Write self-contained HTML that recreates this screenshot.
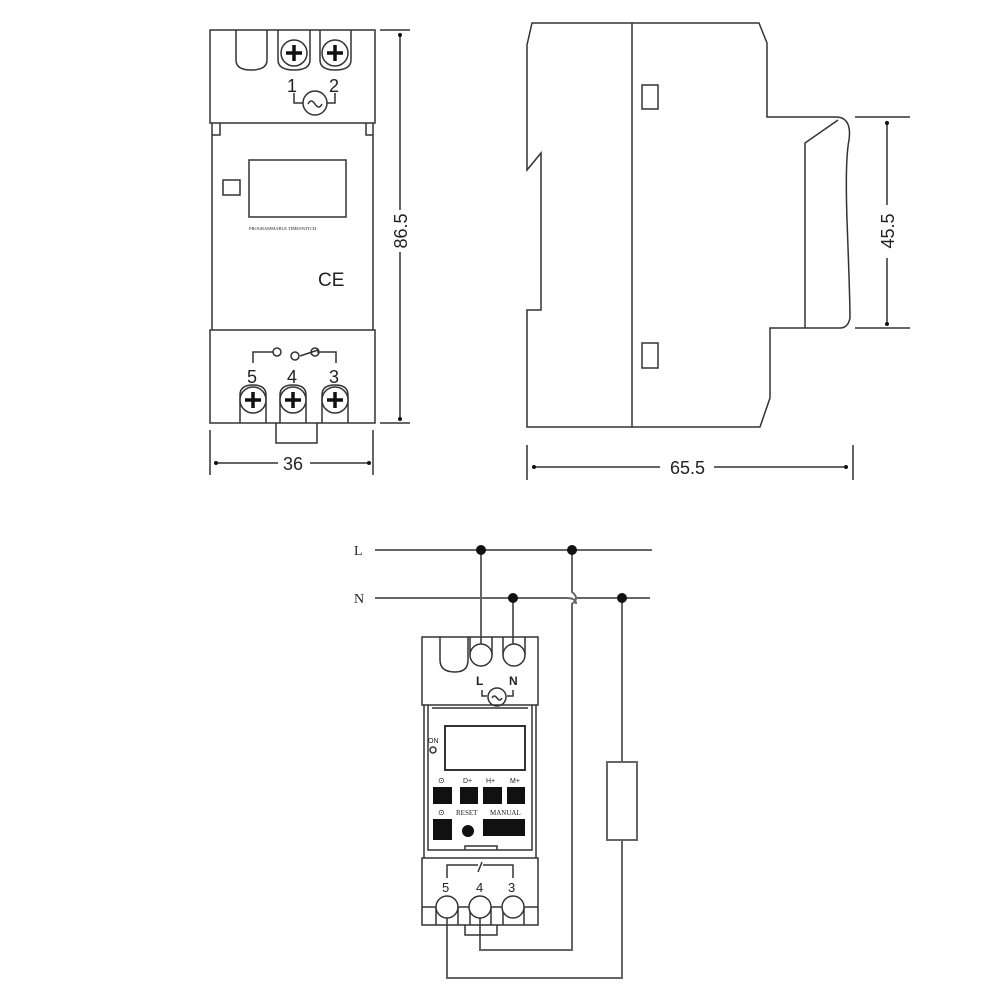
<!DOCTYPE html>
<html><head><meta charset="utf-8"><style>html,body{margin:0;padding:0;background:#fff}svg{display:block}</style></head><body>
<svg width="1000" height="1000" viewBox="0 0 1000 1000" xmlns="http://www.w3.org/2000/svg" font-family="Liberation Sans, sans-serif">
<g fill="none" stroke="#333" stroke-width="1.5">
<!-- FRONT VIEW -->
<rect x="210" y="30" width="165" height="93"/>
<path d="M212 123 V330 M373 123 V330 M212 123 L212 135 L220 135 L220 123 M373 123 L373 135 L366 135 L366 123"/>
<rect x="210" y="330" width="165" height="93"/>
<path d="M276 423 V443 H317 V423"/>
<path d="M236 30 V60 Q236 70 251 70 Q267 70 267 60 V30"/>
<path d="M278 30 V60 Q278 70 294 70 Q310 70 310 60 V30 M320 30 V60 Q320 70 335 70 Q351 70 351 60 V30"/>
<circle cx="294" cy="53" r="13"/><circle cx="335" cy="53" r="13"/>
<path d="M294 93 V103 H303 M335 93 V103 H327"/>
<circle cx="315" cy="103" r="12"/>
<path d="M308 104 q3 -6 7 0 q4 6 7 0"/>
<rect x="249" y="160" width="97" height="57"/>
<rect x="223" y="180" width="17" height="15"/>
<path d="M240 423 V395 Q240 385 253 385 Q266 385 266 395 V423 M280 423 V395 Q280 385 293 385 Q306 385 306 395 V423 M322 423 V395 Q322 385 335 385 Q348 385 348 395 V423"/>
<circle cx="253" cy="400" r="13" fill="#fff"/><circle cx="293" cy="400" r="13" fill="#fff"/><circle cx="335" cy="400" r="13" fill="#fff"/>
<path d="M253 363 V352 H273 M318 350 L300 356 M317 352 H336 V363"/>
<circle cx="277" cy="352" r="4"/><circle cx="295" cy="356" r="4"/><circle cx="315" cy="352" r="4"/>
<!-- dims -->
<path d="M380 30 H410 M380 423 H410 M400 34 V210 M400 252 V420 M210 430 V475 M373 430 V475 M215 463 H278 M310 463 H370"/>
<!-- SIDE VIEW -->
<path d="M532 23 H759 L767 43 V117 H837 Q852 118 849 140 Q845 160 847 220 Q850 300 850 318 Q848 328 840 328 H770 V398 L760 427 H527 V310 H541 V153 L527 170 V45 Z"/>
<path d="M632 23 V427"/>
<rect x="642" y="85" width="16" height="24"/><rect x="642" y="343" width="16" height="25"/>
<path d="M805 328 V143 L838 120"/>
<path d="M855 117 H910 M855 328 H910 M887 122 V205 M887 258 V325 M527 445 V480 M853 445 V480 M533 467 H660 M714 467 H847"/>
<!-- WIRING -->
<g stroke="#666" stroke-width="2">
<path d="M375 550 H652 M375 598 H567 Q576 598 576 604 M577 598 H650"/>
<path d="M481 550 V644 M513 598 V644"/>
<path d="M572 550 V592 Q580 598 572 604 V950 H480 V918"/>
<path d="M622 598 V762 M622 840 V978 H447 V918"/>
<rect x="607" y="762" width="30" height="78"/>
</g>
<!-- DEVICE 2 -->
<rect x="422" y="637" width="116" height="68"/>
<path d="M440 637 V660 Q440 672 455 672 Q468 672 468 660 V637 M470 637 V655 M492 637 V655 M503 637 V655 M525 637 V655"/>
<circle cx="481" cy="655" r="11" fill="#fff"/><circle cx="514" cy="655" r="11" fill="#fff"/>
<path d="M482 690 V696 H487 M513 690 V696 H507"/><circle cx="497" cy="697" r="9"/>
<path d="M492 698 q2 -4 5 0 q3 4 5 0"/>
<path d="M424 705 V858 M536 705 V858 M428 705 V850 H532 V705 M432 708 H528"/>
<rect x="445" y="726" width="80" height="44" stroke-width="2"/>
<circle cx="433" cy="750" r="3"/>
<path d="M465 850 V846 H497 V850"/>
<rect x="422" y="858" width="116" height="67"/>
<path d="M422 907 H538 M436 907 V925 M458 907 V925 M470 907 V925 M491 907 V925 M503 907 V925 M524 907 V925 M465 925 V935 H497 V925"/>
<circle cx="447" cy="907" r="11" fill="#fff"/><circle cx="480" cy="907" r="11" fill="#fff"/><circle cx="513" cy="907" r="11" fill="#fff"/>
<path d="M447 878 V865 H478 M482 862 L478 872 M483 865 H513 V878"/>
</g>
<g fill="#111">
<rect x="433" y="787" width="19" height="17"/><rect x="460" y="787" width="18" height="17"/><rect x="483" y="787" width="19" height="17"/><rect x="507" y="787" width="18" height="17"/>
<rect x="433" y="819" width="19" height="21"/><circle cx="468" cy="831" r="6"/><rect x="483" y="819" width="42" height="17"/>
<circle cx="481" cy="550" r="5"/><circle cx="572" cy="550" r="5"/><circle cx="513" cy="598" r="5"/><circle cx="622" cy="598" r="5"/>
<circle cx="400" cy="35" r="2"/><circle cx="400" cy="419" r="2"/><circle cx="216" cy="463" r="2"/><circle cx="369" cy="463" r="2"/>
<circle cx="887" cy="123" r="2"/><circle cx="887" cy="324" r="2"/><circle cx="534" cy="467" r="2"/><circle cx="846" cy="467" r="2"/>
</g>
<!-- screw crosses -->
<g stroke="#111" stroke-width="3.5">
<path d="M286 53 H302 M294 45 V61 M327 53 H343 M335 45 V61 M245 400 H261 M253 392 V408 M285 400 H301 M293 392 V408 M327 400 H343 M335 392 V408"/>
</g>
<g fill="#222" font-size="18">
<text x="287" y="92">1</text><text x="329" y="92">2</text>
<text x="247" y="383">5</text><text x="287" y="383">4</text><text x="329" y="383">3</text>
<text x="318" y="286" font-size="19">CE</text>
<text x="249" y="230" font-size="4.5" font-family="Liberation Serif, serif">PROGRAMMABLE TIMESWITCH</text>
<text x="283" y="470">36</text>
<text x="670" y="474">65.5</text>
<text transform="translate(407,231) rotate(-90)" text-anchor="middle">86.5</text>
<text transform="translate(894,231) rotate(-90)" text-anchor="middle">45.5</text>
<text x="354" y="555" font-family="Liberation Serif, serif" font-size="14">L</text>
<text x="354" y="603" font-family="Liberation Serif, serif" font-size="14">N</text>
<text x="476" y="685" font-size="12" font-weight="bold">L</text><text x="509" y="685" font-size="12" font-weight="bold">N</text>
<text x="442" y="892" font-size="13">5</text><text x="476" y="892" font-size="13">4</text><text x="508" y="892" font-size="13">3</text>
<text x="428" y="743" font-size="7">ON</text>
<text x="438" y="783" font-size="8">⊙</text><text x="463" y="783" font-size="7">D+</text><text x="486" y="783" font-size="7">H+</text><text x="510" y="783" font-size="7">M+</text>
<text x="438" y="815" font-size="8">⊙</text><text x="456" y="815" font-size="7" font-family="Liberation Serif, serif">RESET</text><text x="490" y="815" font-size="7" font-family="Liberation Serif, serif">MANUAL</text>
</g>
</svg>
</body></html>
